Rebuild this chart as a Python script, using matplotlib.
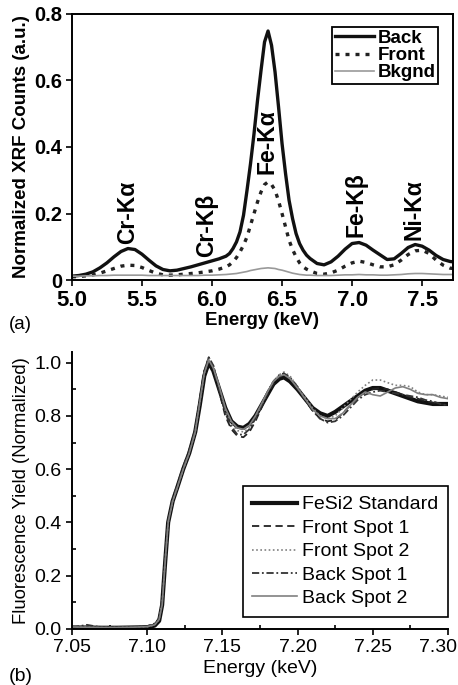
import matplotlib
matplotlib.use("Agg")
import matplotlib.pyplot as plt
import matplotlib.transforms as mtransforms
from matplotlib.ticker import MultipleLocator

plt.rcParams['font.family'] = ['Liberation Sans', 'DejaVu Sans']

# ---- panel (a): XRF spectra ----
energy_a = [5.00, 5.05, 5.10, 5.15, 5.20, 5.25, 5.30, 5.35, 5.40, 5.45,
            5.50, 5.55, 5.60, 5.65, 5.70, 5.75, 5.80, 5.85, 5.90, 5.95,
            6.00, 6.05, 6.100, 6.125, 6.150, 6.175, 6.200, 6.225, 6.250, 6.275,
            6.300, 6.325, 6.350, 6.375, 6.400, 6.425, 6.450, 6.475, 6.500, 6.525,
            6.550, 6.575, 6.600, 6.625, 6.650, 6.675, 6.700, 6.75, 6.80, 6.85,
            6.90, 6.95, 7.00, 7.05, 7.10, 7.15, 7.20, 7.25, 7.30, 7.35,
            7.40, 7.45, 7.50, 7.55, 7.60, 7.65, 7.70, 7.75]
back = [0.012, 0.014, 0.018, 0.025, 0.037, 0.052, 0.070, 0.086, 0.095, 0.092,
        0.078, 0.060, 0.043, 0.032, 0.028, 0.030, 0.035, 0.040, 0.046, 0.052,
        0.058, 0.064, 0.072, 0.080, 0.095, 0.115, 0.145, 0.195, 0.270, 0.350,
        0.440, 0.540, 0.630, 0.715, 0.748, 0.705, 0.625, 0.520, 0.410, 0.320,
        0.240, 0.185, 0.140, 0.110, 0.090, 0.075, 0.065, 0.050, 0.046, 0.055,
        0.072, 0.093, 0.110, 0.113, 0.105, 0.090, 0.076, 0.062, 0.064, 0.080,
        0.098, 0.107, 0.102, 0.090, 0.074, 0.062, 0.056, 0.054]
front = [0.010, 0.011, 0.013, 0.016, 0.021, 0.028, 0.035, 0.042, 0.045, 0.044,
         0.038, 0.029, 0.021, 0.016, 0.015, 0.016, 0.018, 0.020, 0.022, 0.025,
         0.028, 0.033, 0.040, 0.046, 0.055, 0.068, 0.085, 0.105, 0.130, 0.165,
         0.200, 0.235, 0.265, 0.287, 0.295, 0.287, 0.270, 0.238, 0.200, 0.160,
         0.120, 0.092, 0.070, 0.052, 0.040, 0.033, 0.028, 0.020, 0.018, 0.022,
         0.030, 0.042, 0.052, 0.057, 0.053, 0.046, 0.040, 0.040, 0.046, 0.060,
         0.077, 0.088, 0.090, 0.080, 0.060, 0.045, 0.036, 0.034]
bkgnd = [0.012, 0.012, 0.013, 0.013, 0.014, 0.014, 0.015, 0.015, 0.015, 0.015,
         0.015, 0.014, 0.014, 0.014, 0.014, 0.014, 0.014, 0.014, 0.014, 0.015,
         0.015, 0.016, 0.017, 0.018, 0.019, 0.020, 0.022, 0.024, 0.026, 0.029,
         0.031, 0.033, 0.035, 0.036, 0.037, 0.036, 0.035, 0.032, 0.030, 0.027,
         0.024, 0.021, 0.019, 0.017, 0.016, 0.015, 0.015, 0.014, 0.014, 0.014,
         0.015, 0.016, 0.016, 0.017, 0.016, 0.016, 0.015, 0.015, 0.016, 0.017,
         0.019, 0.020, 0.020, 0.019, 0.018, 0.017, 0.017, 0.017]

peak_names = ['Cr-Kα', 'Cr-Kβ', 'Fe-Kα', 'Fe-Kβ', 'Ni-Kα']
peak_x = [5.40, 5.96, 6.39, 7.03, 7.44]
peak_y = [0.11, 0.07, 0.32, 0.13, 0.12]

# ---- panel (b): XANES ----
energy_b = [7.050, 7.060, 7.070, 7.080, 7.090, 7.100, 7.105, 7.108, 7.110, 7.112,
            7.114, 7.117, 7.120, 7.124, 7.128, 7.132, 7.135, 7.138, 7.141, 7.144,
            7.148, 7.152, 7.156, 7.160, 7.164, 7.168, 7.172, 7.176, 7.180, 7.184,
            7.188, 7.191, 7.195, 7.200, 7.205, 7.210, 7.215, 7.220, 7.225, 7.230,
            7.235, 7.240, 7.245, 7.250, 7.255, 7.260, 7.265, 7.270, 7.275, 7.280,
            7.285, 7.290, 7.295, 7.300]
fesi2 = [0.005, 0.005, 0.004, 0.004, 0.005, 0.006, 0.012, 0.030, 0.090, 0.250,
         0.400, 0.480, 0.530, 0.600, 0.660, 0.740, 0.840, 0.950, 1.000, 0.970,
         0.900, 0.830, 0.780, 0.760, 0.755, 0.770, 0.800, 0.840, 0.880, 0.920,
         0.940, 0.945, 0.930, 0.900, 0.865, 0.830, 0.810, 0.800, 0.815, 0.835,
         0.855, 0.875, 0.895, 0.905, 0.905, 0.895, 0.885, 0.875, 0.865, 0.855,
         0.850, 0.845, 0.845, 0.845]
front1 = [0.008, 0.007, 0.006, 0.005, 0.006, 0.008, 0.015, 0.040, 0.100, 0.260,
          0.410, 0.480, 0.530, 0.600, 0.670, 0.750, 0.860, 0.970, 1.020, 0.980,
          0.890, 0.800, 0.750, 0.725, 0.720, 0.740, 0.780, 0.830, 0.880, 0.920,
          0.945, 0.955, 0.940, 0.900, 0.860, 0.820, 0.790, 0.780, 0.785, 0.810,
          0.840, 0.870, 0.890, 0.900, 0.905, 0.900, 0.890, 0.880, 0.870, 0.865,
          0.855, 0.850, 0.845, 0.840]
front2 = [0.006, 0.006, 0.005, 0.005, 0.006, 0.008, 0.015, 0.035, 0.100, 0.260,
          0.400, 0.480, 0.530, 0.600, 0.660, 0.740, 0.850, 0.960, 1.020, 0.990,
          0.910, 0.820, 0.770, 0.745, 0.740, 0.755, 0.790, 0.840, 0.890, 0.930,
          0.955, 0.965, 0.950, 0.910, 0.870, 0.830, 0.800, 0.790, 0.800, 0.830,
          0.860, 0.890, 0.915, 0.935, 0.935, 0.925, 0.915, 0.915, 0.910, 0.890,
          0.880, 0.880, 0.875, 0.870]
back1 = [0.005, 0.015, 0.005, 0.005, 0.006, 0.010, 0.020, 0.040, 0.110, 0.270,
         0.410, 0.490, 0.540, 0.610, 0.670, 0.750, 0.860, 0.970, 1.020, 0.990,
         0.900, 0.810, 0.760, 0.730, 0.730, 0.750, 0.790, 0.840, 0.890, 0.930,
         0.955, 0.960, 0.945, 0.910, 0.860, 0.820, 0.790, 0.775, 0.780, 0.800,
         0.830, 0.860, 0.880, 0.890, 0.895, 0.890, 0.885, 0.880, 0.875, 0.870,
         0.860, 0.855, 0.845, 0.840]
back2 = [0.007, 0.006, 0.005, 0.005, 0.006, 0.008, 0.015, 0.035, 0.090, 0.250,
         0.400, 0.480, 0.530, 0.600, 0.660, 0.740, 0.850, 0.960, 1.010, 0.980,
         0.910, 0.830, 0.780, 0.755, 0.750, 0.765, 0.800, 0.845, 0.890, 0.930,
         0.950, 0.955, 0.940, 0.905, 0.865, 0.825, 0.800, 0.790, 0.790, 0.810,
         0.840, 0.870, 0.890, 0.880, 0.875, 0.890, 0.905, 0.910, 0.900, 0.885,
         0.880, 0.880, 0.870, 0.865]

fig = plt.figure(figsize=(4.58, 6.85), dpi=100)

# ---------- (a) ----------
ax1 = fig.add_axes([0.157, 0.591, 0.832, 0.389])
ax1.plot(energy_a, back, color='#111111', lw=2.4, label='Back')
ax1.plot(energy_a, front, color='#222222', lw=2.4, linestyle=(0, (1.2, 1.8)), label='Front')
ax1.plot(energy_a, bkgnd, color='#999999', lw=1.2, label='Bkgnd')
for name, px, py in zip(peak_names, peak_x, peak_y):
    ax1.text(px, py, name, rotation=90, ha='center', va='bottom',
             fontsize=16.5, fontweight='bold')
ax1.set_xlim(5.0, 7.72)
ax1.set_ylim(0, 0.8)
ax1.set_xticks([5.0, 5.5, 6.0, 6.5, 7.0, 7.5])
ax1.set_xticklabels(['5.0', '5.5', '6.0', '6.5', '7.0', '7.5'])
ax1.set_yticks([0, 0.2, 0.4, 0.6, 0.8])
ax1.set_yticklabels(['0', '0.2', '0.4', '0.6', '0.8'])
ax1.tick_params(direction='out', length=4, width=1.2)
ax1.tick_params(axis='x', labelsize=16, pad=3)
ax1.tick_params(axis='y', labelsize=14.5, pad=3)
for lab in ax1.get_xticklabels() + ax1.get_yticklabels():
    lab.set_fontweight('bold')
for sp in ax1.spines.values():
    sp.set_linewidth(1.4)
ax1.set_xlabel('Energy (keV)', fontsize=13.5, fontweight='bold', labelpad=1)
ax1.set_ylabel('Normalized XRF Counts (a.u.)', fontsize=13.5, fontweight='bold', labelpad=3)
leg1 = ax1.legend(loc='upper right', bbox_to_anchor=(0.962, 0.95),
                  prop={'weight': 'bold', 'size': 13.5}, frameon=True, fancybox=False,
                  edgecolor='black', framealpha=1, handlelength=2.1, handletextpad=0.2,
                  labelspacing=0.0, borderpad=0.15, borderaxespad=0)
leg1.get_frame().set_linewidth(1.3)
fig.text(0.02, 0.52, '(a)', fontsize=13.5)

# ---------- (b) ----------
ax2 = fig.add_axes([0.157, 0.082, 0.821, 0.404])
ax2.plot(energy_b, fesi2, color='#111111', lw=3.0, label='FeSi2 Standard')
ax2.plot(energy_b, front1, color='#222222', lw=1.3, linestyle=(0, (4, 2.5)), label='Front Spot 1')
ax2.plot(energy_b, front2, color='#808080', lw=1.2, linestyle=(0, (1, 1.5)), label='Front Spot 2')
ax2.plot(energy_b, back1, color='#333333', lw=1.3, linestyle=(0, (4, 1.5, 1, 1.5)), label='Back Spot 1')
ax2.plot(energy_b, back2, color='#808080', lw=1.2, label='Back Spot 2')
ax2.set_xlim(7.05, 7.30)
ax2.set_ylim(0, 1.04)
ax2.set_xticks([7.05, 7.10, 7.15, 7.20, 7.25, 7.30])
ax2.set_xticklabels(['7.05', '7.10', '7.15', '7.20', '7.25', '7.30'])
ax2.set_yticks([0.0, 0.2, 0.4, 0.6, 0.8, 1.0])
ax2.set_yticklabels(['0.0', '0.2', '0.4', '0.6', '0.8', '1.0'])
ax2.xaxis.set_minor_locator(MultipleLocator(0.025))
ax2.yaxis.set_minor_locator(MultipleLocator(0.1))
ax2.tick_params(which='major', direction='out', length=4, width=1.2, labelsize=14)
ax2.tick_params(which='minor', direction='in', length=3, width=1.2)
# last x label sits a little left, as in the original
last = ax2.get_xticklabels()[-1]
last.set_transform(last.get_transform() + mtransforms.ScaledTranslation(-0.1, 0, fig.dpi_scale_trans))
ax2.spines['top'].set_visible(False)
ax2.spines['right'].set_visible(False)
for sp in ['left', 'bottom']:
    ax2.spines[sp].set_linewidth(1.4)
ax2.set_xlabel('Energy (keV)', fontsize=14, labelpad=3)
ax2.set_ylabel('Fluorescence Yield (Normalized)', fontsize=13.3, labelpad=3)
leg2 = ax2.legend(loc='lower right', bbox_to_anchor=(1.0, 0.043),
                  prop={'size': 14}, frameon=True, fancybox=False,
                  edgecolor='black', framealpha=1, handlelength=2.3, handletextpad=0.25,
                  labelspacing=0.3, borderpad=0.5, borderaxespad=0)
leg2.get_frame().set_linewidth(1.2)
fig.text(0.02, 0.006, '(b)', fontsize=14)

fig.savefig('out.png', dpi=100)
